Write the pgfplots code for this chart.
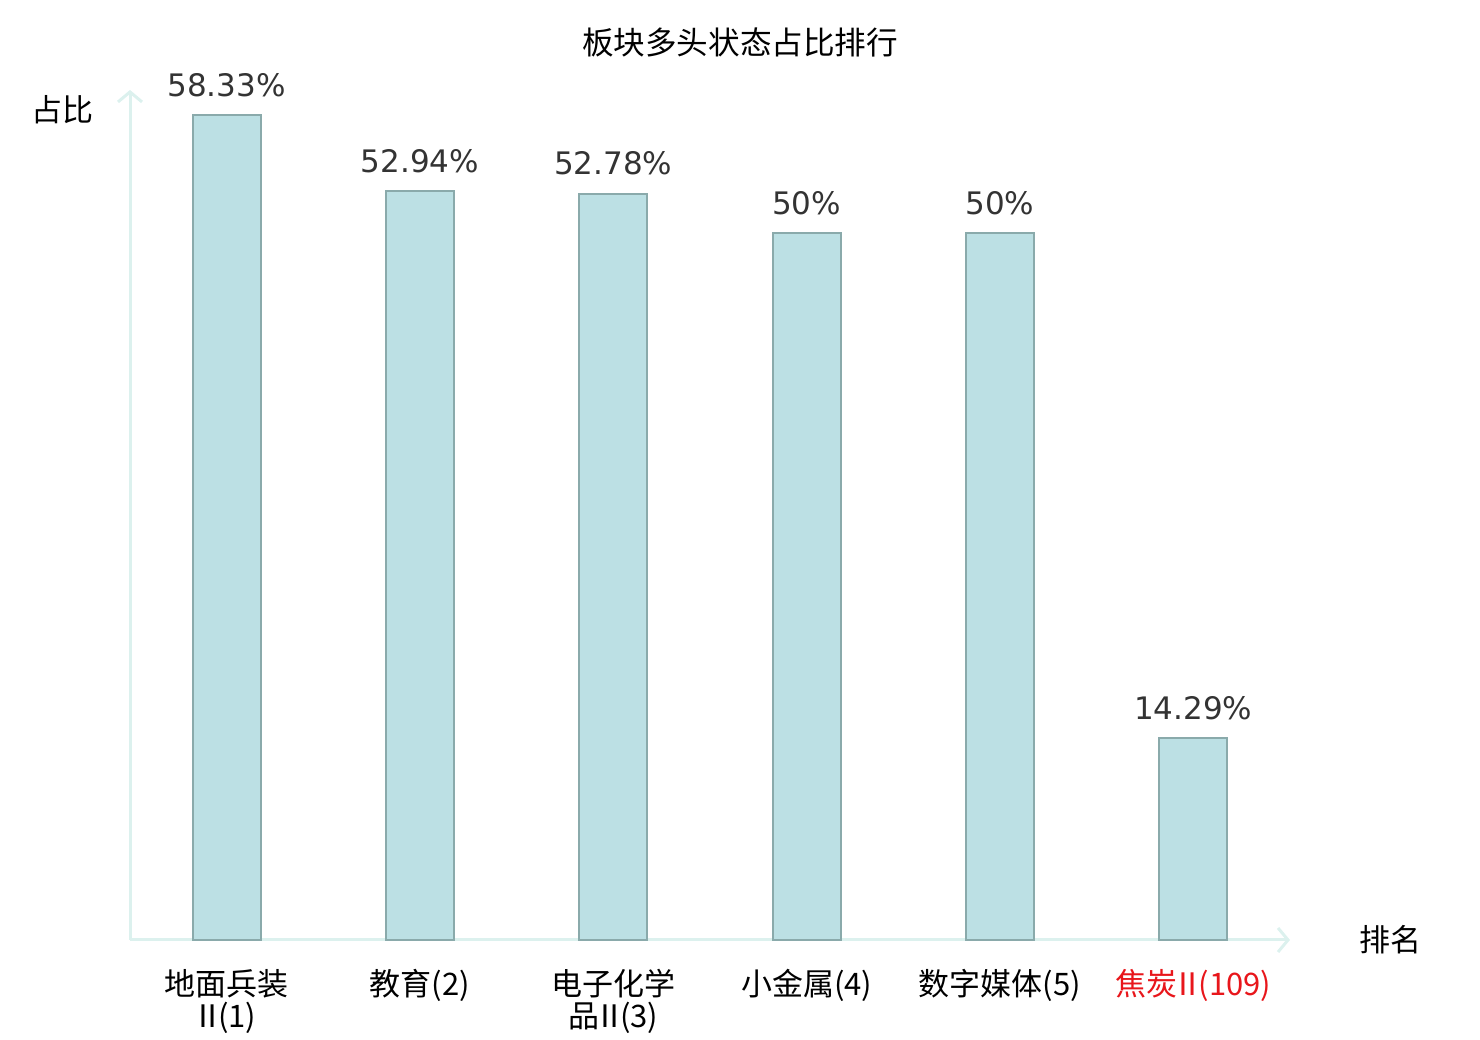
\documentclass[border=0pt]{standalone}
\usepackage{fontspec}
\setmainfont{Noto Sans CJK SC}
\newfontfamily\valfont{DejaVu Sans}
\usepackage{pgfplots}
\pgfplotsset{compat=1.18}
\usetikzlibrary{arrows.meta}
\definecolor{barfill}{HTML}{BCE0E4}
\definecolor{barline}{HTML}{8AAAAB}
\definecolor{axiscol}{HTML}{DCF1EE}
\definecolor{valcol}{HTML}{333333}
\definecolor{redlab}{HTML}{E8161B}
\newcommand{\rii}{\kern-2.5pt Ⅱ\kern-2.5pt}
\begin{document}
\begin{tikzpicture}
\useasboundingbox (0,0) rectangle (740pt,520pt);
\begin{axis}[
  at={(65pt,50pt)}, anchor=south west,
  scale only axis, width=580pt, height=425pt,
  xmin=-0.5, xmax=5.5, ymin=0, ymax=60.1,
  axis lines=left,
  axis line style={draw=axiscol, line width=1.5pt},
  every outer x axis line/.append style={-{Straight Barb[length=5pt,width=12pt,line width=1.5pt]}},
  every outer y axis line/.append style={-{Straight Barb[length=5pt,width=12pt,line width=1.5pt]}},
  ytick=\empty,
  xtick={0,1,2,3,4,5},
  xticklabels={{地面兵装\\\rii(1)},{教育(2)},{电子化学\\品\rii(3)},{小金属(4)},{数字媒体(5)},{\color{redlab}焦炭\rii(109)}},
  major tick length=0pt,
  xticklabel style={font=\fontsize{15.5}{16}\selectfont, align=center, anchor=north, yshift=-11pt, text=black},
  ybar, bar width=34pt,
  nodes near coords={\pgfmathprintnumber[fixed,precision=2]{\pgfplotspointmeta}\%},
  every node near coord/.append style={font=\valfont\fontsize{15.5}{16}\selectfont, text=valcol, anchor=center, yshift=15pt},
  /pgf/number format/assume math mode=true,
  clip=false,
]
\addplot[fill=barfill, draw=barline, line width=1pt] coordinates {(0,58.33) (1,52.94) (2,52.78) (3,50) (4,50) (5,14.29)};
\end{axis}
\node[font=\fontsize{15.8}{16}\selectfont] at (370pt,499pt) {板块多头状态占比排行};
\node[font=\fontsize{15.5}{16}\selectfont] at (31.5pt,465pt) {占比};
\node[font=\fontsize{15.5}{16}\selectfont] at (695pt,50pt) {排名};
\end{tikzpicture}
\end{document}
